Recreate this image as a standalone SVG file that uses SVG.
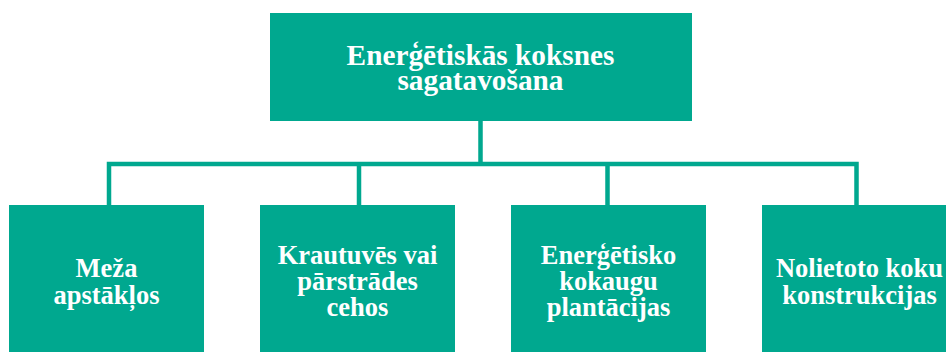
<svg xmlns="http://www.w3.org/2000/svg" width="946" height="352" viewBox="0 0 946 352">
<style>
.box{fill:#00a88f}
.t{fill:#ffffff;font-family:"Liberation Serif","Times New Roman",serif;font-weight:bold;text-anchor:middle}
.top{font-size:29.3px}
.sub{font-size:26.5px}
.c{fill:none;stroke:#00a88f;stroke-width:4.5}
</style>
<rect width="946" height="352" fill="#ffffff"/>
<g id="connectors">
<path class="c" d="M480.5 121 V164 M109 205 V164 H856.5 V205 M359 164 V205 M607.5 164 V205"/>
</g>
<g id="root">
<rect class="box" x="270" y="13" width="422" height="108"/>
<text class="t top" x="480.5" y="64.5">Enerģētiskās koksnes</text>
<text class="t top" x="480.5" y="89.5">sagatavošana</text>
</g>
<g id="n1">
<rect class="box" x="9" y="205" width="195" height="147"/>
<text class="t sub" x="106.5" y="277">Meža</text>
<text class="t sub" x="106.5" y="303.5">apstākļos</text>
</g>
<g id="n2">
<rect class="box" x="260" y="205" width="195" height="147"/>
<text class="t sub" x="357.5" y="264">Krautuvēs vai</text>
<text class="t sub" x="357.5" y="290">pārstrādes</text>
<text class="t sub" x="357.5" y="316">cehos</text>
</g>
<g id="n3">
<rect class="box" x="511" y="205" width="195" height="147"/>
<text class="t sub" x="608.5" y="263.5">Enerģētisko</text>
<text class="t sub" x="608.5" y="290">kokaugu</text>
<text class="t sub" x="608.5" y="316">plantācijas</text>
</g>
<g id="n4">
<rect class="box" x="762" y="205" width="195" height="147"/>
<text class="t sub" x="859.5" y="277">Nolietoto koku</text>
<text class="t sub" x="859.5" y="303.5">konstrukcijas</text>
</g>
</svg>
